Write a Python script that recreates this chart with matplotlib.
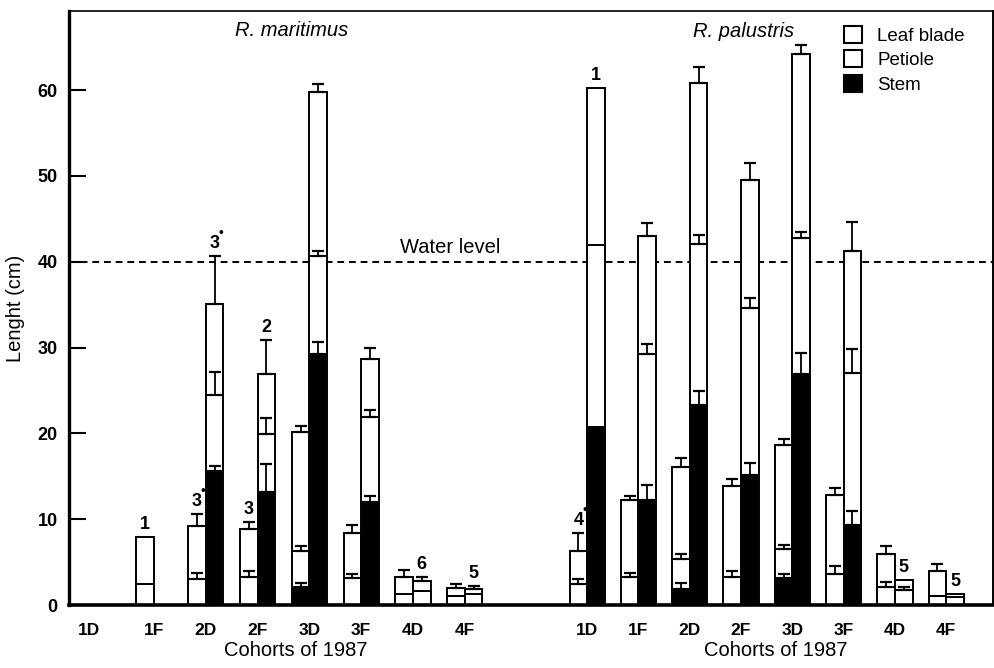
import numpy as np
import matplotlib
matplotlib.use("Agg")
import matplotlib.pyplot as plt
from matplotlib.patches import Patch
from matplotlib.transforms import blended_transform_factory

plt.rcParams['font.family'] = ['Liberation Sans', 'DejaVu Sans']

cohorts = ['1D', '1F', '2D', '2F', '3D', '3F', '4D', '4F']

# R. maritimus -- cumulative segment tops (cm) and SE of each segment
# bar a = left bar of each cohort, bar b = right bar
mar_a_stem = [0, 0, 0, 0, 2.1, 0, 0, 0]
mar_a_pet = [0, 2.5, 3.0, 3.3, 6.3, 3.1, 1.3, 1.0]
mar_a_blade = [0, 7.9, 9.2, 8.8, 20.2, 8.4, 3.3, 2.0]
mar_a_se_stem = [0, 0, 0, 0, 0.5, 0, 0, 0]
mar_a_se_pet = [0, 0, 0.7, 0.7, 0.6, 0.5, 0, 0]
mar_a_se_blade = [0, 0, 1.4, 0.9, 0.7, 0.9, 0.8, 0.5]

mar_b_stem = [0, 0, 15.6, 13.2, 29.3, 12.0, 0, 0]
mar_b_pet = [0, 0, 24.5, 19.9, 40.7, 21.9, 1.6, 1.3]
mar_b_blade = [0, 0, 35.1, 26.9, 59.8, 28.7, 2.8, 1.85]
mar_b_se_stem = [0, 0, 0.6, 3.2, 1.3, 0.7, 0, 0]
mar_b_se_pet = [0, 0, 2.6, 1.9, 0.6, 0.8, 0, 0]
mar_b_se_blade = [0, 0, 5.6, 4.0, 0.9, 1.3, 0.5, 0.4]

# R. palustris
pal_a_stem = [0, 0, 1.9, 0, 3.2, 0, 0, 0]
pal_a_pet = [2.4, 3.3, 5.4, 3.3, 6.5, 3.6, 2.1, 1.1]
pal_a_blade = [6.3, 12.2, 16.1, 13.9, 18.6, 12.8, 6.0, 4.0]
pal_a_se_stem = [0, 0, 0.7, 0, 0.4, 0, 0, 0]
pal_a_se_pet = [0.6, 0.4, 0.6, 0.7, 0.5, 0.9, 0.6, 0]
pal_a_se_blade = [2.1, 0.5, 1.0, 0.8, 0.8, 0.8, 0.9, 0.8]

pal_b_stem = [20.7, 12.2, 23.3, 15.1, 26.9, 9.3, 0, 0]
pal_b_pet = [41.9, 29.2, 42.1, 34.6, 42.8, 27.0, 1.7, 0.9]
pal_b_blade = [60.2, 43.0, 60.8, 49.5, 64.2, 41.3, 2.9, 1.3]
pal_b_se_stem = [0, 1.8, 1.6, 1.4, 2.5, 1.7, 0, 0]
pal_b_se_pet = [0, 1.2, 1.0, 1.2, 0.7, 2.8, 0.4, 0]
pal_b_se_blade = [0, 1.5, 1.9, 2.0, 1.0, 3.3, 0, 0]

# sample sizes written over some bars: (cohort index, bar, text, dot)
mar_notes = [(1, 'a', '1', False), (2, 'a', '3', True), (2, 'b', '3', True),
             (3, 'a', '3', False), (3, 'b', '2', False), (6, 'b', '6', False),
             (7, 'b', '5', False)]
pal_notes = [(0, 'a', '4', True), (0, 'b', '1', False), (6, 'b', '5', False),
             (7, 'b', '5', False)]

water_level = 40

mar_pos = np.array([-1.25, 0, 1, 2, 3, 4, 5, 6])
pal_pos = 8.36 + 0.99 * np.arange(8)
w = 0.34

fig = plt.figure(figsize=(9.94, 6.68), dpi=100)
ax = fig.add_axes([0.0694, 0.0943, 0.93, 0.889])


def draw_bar(x, stem, pet, blade, se_stem, se_pet, se_blade):
    stem = np.array(stem); pet = np.array(pet); blade = np.array(blade)
    ax.bar(x, stem, w, color='black', edgecolor='black', lw=1.4, zorder=2)
    ax.bar(x, pet - stem, w, bottom=stem, color='white', edgecolor='black',
           lw=1.4, zorder=2)
    ax.bar(x, blade - pet, w, bottom=pet, color='white', edgecolor='black',
           lw=1.4, zorder=2)
    for top, se in ((stem, se_stem), (pet, se_pet), (blade, se_blade)):
        se = np.array(se)
        m = se > 0
        ax.errorbar(x[m], top[m], yerr=[np.zeros(m.sum()), se[m]], fmt='none',
                    ecolor='black', elinewidth=1.3, capsize=4, capthick=1.6,
                    zorder=3)


def draw_group(pos, a, b, notes):
    xa = pos - w / 2
    xb = pos + w / 2
    draw_bar(xa, *a)
    draw_bar(xb, *b)
    for i, bar, txt, dot in notes:
        x = xa[i] if bar == 'a' else xb[i]
        d = a if bar == 'a' else b
        top = d[2][i] + d[5][i]
        ax.annotate(txt, (x, top), xytext=(0, 3), textcoords='offset points',
                    ha='center', va='bottom', fontsize=13, fontweight='bold',
                    zorder=5)
        if dot:
            ax.annotate('\u2022', (x, top), xytext=(4.5, 11.5),
                        textcoords='offset points', ha='center', va='bottom',
                        fontsize=10, zorder=5)


draw_group(mar_pos,
           (mar_a_stem, mar_a_pet, mar_a_blade, mar_a_se_stem, mar_a_se_pet, mar_a_se_blade),
           (mar_b_stem, mar_b_pet, mar_b_blade, mar_b_se_stem, mar_b_se_pet, mar_b_se_blade),
           mar_notes)
draw_group(pal_pos,
           (pal_a_stem, pal_a_pet, pal_a_blade, pal_a_se_stem, pal_a_se_pet, pal_a_se_blade),
           (pal_b_stem, pal_b_pet, pal_b_blade, pal_b_se_stem, pal_b_se_pet, pal_b_se_blade),
           pal_notes)

ax.axhline(water_level, color='black', lw=1.4, ls=(0, (3.5, 2.5)), zorder=1)
ax.text(5.71, water_level + 1.7, 'Water level', ha='center', va='center',
        fontsize=14.5)

ax.text(2.66, 67.0, 'R. maritimus', style='italic', ha='center', va='center',
        fontsize=14.5)
ax.text(11.37, 66.8, 'R. palustris', style='italic', ha='center', va='center',
        fontsize=14.5)

ax.set_xlim(-1.64, 16.2)
ax.set_ylim(0, 69.2)
ax.set_yticks(range(0, 70, 10))
ax.set_xticks(np.concatenate([mar_pos, pal_pos]))
ax.set_xticklabels(cohorts + cohorts, fontweight='bold')
ax.set_yticklabels([str(v) for v in range(0, 70, 10)], fontweight='bold')
ax.tick_params(axis='y', direction='in', length=12, width=1.5, pad=8,
               labelsize=13)
ax.tick_params(axis='x', length=0, pad=13, labelsize=12.5)
ax.set_ylabel('Lenght (cm)', fontsize=14.5, labelpad=9)

tr = blended_transform_factory(ax.transData, ax.transAxes)
ax.text(2.73, -0.077, 'Cohorts of 1987', transform=tr, ha='center',
        va='center', fontsize=14.5)
ax.text(11.99, -0.077, 'Cohorts of 1987', transform=tr, ha='center',
        va='center', fontsize=14.5)

ax.spines['left'].set_linewidth(2.4)
ax.spines['bottom'].set_linewidth(2.6)
ax.spines['top'].set_linewidth(1.2)
ax.spines['right'].set_linewidth(1.4)

handles = [Patch(facecolor='white', edgecolor='black', lw=1.5),
           Patch(facecolor='white', edgecolor='black', lw=1.5),
           Patch(facecolor='black', edgecolor='black', lw=1.5)]
ax.legend(handles, ['Leaf blade', 'Petiole', 'Stem'], loc='upper left',
          bbox_to_anchor=(0.838, 0.975), frameon=False, fontsize=13.5,
          handlelength=1.0, handleheight=1.0, handletextpad=0.8,
          labelspacing=0.3, borderpad=0, borderaxespad=0)

fig.savefig('out.png', dpi=100)
